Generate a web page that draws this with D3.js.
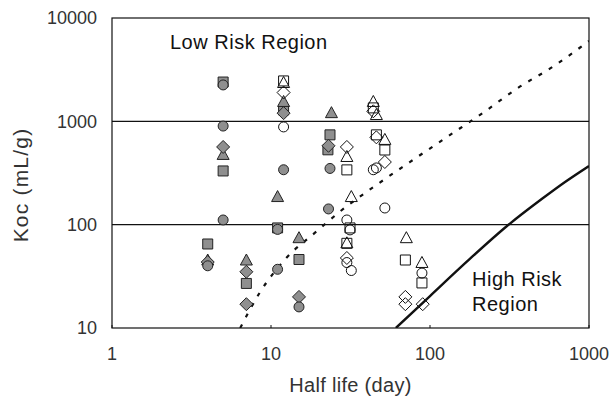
<!DOCTYPE html>
<html>
<head>
<meta charset="utf-8">
<script src="https://cdn.jsdelivr.net/npm/d3@7"></script>
<style>
  body { margin: 0; background: #fff; }
  text { font-family: "Liberation Sans", Arial, sans-serif; fill: #333; }
</style>
</head>
<body>
<div id="chart"></div>
<script>
// values: [half life (day), Koc (mL/g)]
const filledCircle = [[5, 2250], [5, 900], [4, 40], [5, 111], [12, 340], [11, 90], [11, 37], [15, 16], [23.5, 350], [23, 142]]
const filledSquare = [[5, 2400], [5, 331], [4, 65], [7, 27], [12, 1290], [11, 93], [15, 46], [23.5, 740], [22.8, 530]]
const filledTriangle = [[5, 473], [4, 45], [7, 45], [11, 185], [12, 1540], [15, 74], [24, 1200]]
const filledDiamond = [[5, 565], [4, 43.5], [7, 35], [7, 17], [12, 1200], [15, 20], [23, 580]]
const openCircle = [[12, 883], [44, 340], [46, 354], [52, 145], [30, 111], [31.4, 89], [30, 43], [32, 36], [89, 34]]
const openSquare = [[12, 2460], [44, 1349], [46, 740], [52, 528], [30, 339], [31.4, 93], [30, 66], [70, 45.5], [89, 27.3]]
const openTriangle = [[12, 2350], [44, 1540], [46, 1150], [52, 661], [30, 452], [32, 185], [30, 66], [71, 74], [89, 42.6]]
const openDiamond = [[12, 1900], [30, 565], [44, 1250], [46, 700], [52, 404], [30, 47.6], [70, 20], [70, 17], [90, 17]]

// boundary curves, points
const lowRiskLimit = [[6.4, 10], [8.5, 22], [12.4, 47], [19.5, 87], [27, 133], [46, 242], [75, 405], [128, 706], [215, 1206], [357, 2104], [603, 3436], [1000, 6000]]
const highRiskLimit = [[61, 10], [100, 20.4], [178, 46.6], [305, 97], [514, 181], [707, 259], [1000, 370]]

const xTicks = [1, 10, 100, 1000]
const yTicks = [10, 100, 1000, 10000]
const gridValues = [100, 1000]

const config = {
  width: 610,
  height: 401,
  margin: {top: 18, right: 21, bottom: 73, left: 112},
  grey: "#8f8f8f",
  ink: "#222"
}

const chartWidth = config.width - config.margin.left - config.margin.right
const chartHeight = config.height - config.margin.top - config.margin.bottom

const svg = d3.select("#chart").append("svg")
    .attr("width", config.width)
    .attr("height", config.height)

const x = d3.scaleLog().domain([1, 1000]).range([0, chartWidth])
const y = d3.scaleLog().domain([10, 10000]).range([chartHeight, 0])

const g = svg.append("g")
    .attr("transform", `translate(${config.margin.left},${config.margin.top})`)

svg.append("defs").append("clipPath")
    .attr("id", "plot-clip")
  .append("rect")
    .attr("width", chartWidth)
    .attr("height", chartHeight)

// horizontal grid
g.selectAll(".grid")
  .data(gridValues)
  .enter().append("line")
    .attr("class", "grid")
    .attr("x1", 0)
    .attr("x2", chartWidth)
    .attr("y1", (d) => y(d))
    .attr("y2", (d) => y(d))
    .attr("stroke", "#111")
    .attr("stroke-width", 1.2)

// small ticks on the bottom edge
g.selectAll(".xtick")
  .data(xTicks)
  .enter().append("line")
    .attr("x1", (d) => x(d))
    .attr("x2", (d) => x(d))
    .attr("y1", chartHeight)
    .attr("y2", chartHeight - 3)
    .attr("stroke", "#111")

// tick labels
g.selectAll(".xlabel")
  .data(xTicks)
  .enter().append("text")
    .attr("x", (d) => x(d))
    .attr("y", chartHeight + 32)
    .attr("text-anchor", "middle")
    .style("font-size", "18px")
    .text((d) => d)

g.selectAll(".ylabel")
  .data(yTicks)
  .enter().append("text")
    .attr("x", -15)
    .attr("y", (d) => y(d))
    .attr("dy", "0.35em")
    .attr("text-anchor", "end")
    .style("font-size", "18px")
    .text((d) => d)

// boundary lines
const line = d3.line()
    .x((d) => x(d[0]))
    .y((d) => y(d[1]))
    .curve(d3.curveMonotoneX)

const curves = g.append("g").attr("clip-path", "url(#plot-clip)")

curves.append("path")
    .datum(lowRiskLimit)
    .attr("d", line)
    .attr("fill", "none")
    .attr("stroke", "#111")
    .attr("stroke-width", 2.2)
    .attr("stroke-dasharray", "4,8")

curves.append("path")
    .datum(highRiskLimit)
    .attr("d", line)
    .attr("fill", "none")
    .attr("stroke", "#111")
    .attr("stroke-width", 2.4)

// marker shapes
const shapes = {
  circle: () => d3.symbol().type(d3.symbolCircle).size(Math.PI * 25)(),
  square: () => "M-5,-5H5V5H-5Z",
  triangle: () => "M0,-6.5L6,4.5H-6Z",
  diamond: () => "M0,-6.5L6.5,0L0,6.5L-6.5,0Z"
}

const groups = [
  {data: filledSquare, shape: "square", filled: true},
  {data: filledTriangle, shape: "triangle", filled: true},
  {data: filledDiamond, shape: "diamond", filled: true},
  {data: filledCircle, shape: "circle", filled: true},
  {data: openSquare, shape: "square", filled: false},
  {data: openTriangle, shape: "triangle", filled: false},
  {data: openDiamond, shape: "diamond", filled: false},
  {data: openCircle, shape: "circle", filled: false}
]

groups.forEach((group) => {
  g.append("g").selectAll("path")
    .data(group.data)
    .enter().append("path")
      .attr("transform", (d) => `translate(${x(d[0])},${y(d[1])})`)
      .attr("d", shapes[group.shape])
      .attr("fill", group.filled ? config.grey : "none")
      .attr("stroke", group.filled ? config.ink : "#111")
      .attr("stroke-width", 1)
})

// frame
g.append("rect")
    .attr("width", chartWidth)
    .attr("height", chartHeight)
    .attr("fill", "none")
    .attr("stroke", "#111")
    .attr("stroke-width", 1.2)

// region labels
g.append("text")
    .attr("x", 58)
    .attr("y", 31)
    .style("font-size", "20px")
    .style("letter-spacing", "0.5px")
    .style("fill", "#111")
    .text("Low Risk Region")

const high = g.append("text")
    .style("font-size", "20px")
    .style("letter-spacing", "0.5px")
    .style("fill", "#111")
high.append("tspan").attr("x", 360).attr("y", 268).text("High Risk")
high.append("tspan").attr("x", 360).attr("y", 293).text("Region")

// axis titles
svg.append("text")
    .attr("x", config.margin.left + chartWidth / 2)
    .attr("y", 392)
    .attr("text-anchor", "middle")
    .style("font-size", "20px")
    .style("letter-spacing", "0.3px")
    .text("Half life (day)")

svg.append("text")
    .attr("transform", "translate(28,185) rotate(-90)")
    .attr("text-anchor", "middle")
    .style("font-size", "21px")
    .style("letter-spacing", "1.2px")
    .text("Koc (mL/g)")
</script>
</body>
</html>
